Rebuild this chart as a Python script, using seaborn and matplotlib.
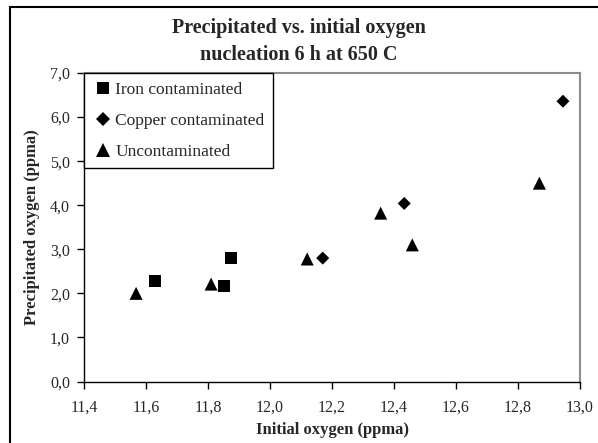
import pandas as pd
import seaborn as sns
import matplotlib.pyplot as plt
from matplotlib.patches import Rectangle
from matplotlib.ticker import FuncFormatter, MultipleLocator

# data
iron_x = [11.63, 11.853, 11.874]
iron_y = [2.28, 2.17, 2.81]
copper_x = [12.17, 12.433, 12.945]
copper_y = [2.80, 4.04, 6.36]
uncont_x = [11.568, 11.81, 12.12, 12.357, 12.459, 12.869]
uncont_y = [2.00, 2.21, 2.78, 3.82, 3.10, 4.50]

groups = ['Iron contaminated', 'Copper contaminated', 'Uncontaminated']


def build_frame():
    rows = []
    for name, xs, ys in zip(groups, [iron_x, copper_x, uncont_x], [iron_y, copper_y, uncont_y]):
        for x, y in zip(xs, ys):
            rows.append({'x': x, 'y': y, 'group': name})
    return pd.DataFrame(rows)


def comma_fmt(v, pos):
    return '{:.1f}'.format(v).replace('.', ',')


df = build_frame()

sns.set_style('white')
plt.rcParams['font.family'] = ['Liberation Serif', 'DejaVu Serif']

fig = plt.figure(figsize=(5.98, 4.43), dpi=100)
ax = fig.add_axes([84 / 598, 1 - 381.5 / 443, 496 / 598, 308.5 / 443])

sns.scatterplot(data=df, x='x', y='y', hue='group', style='group', size='group',
                hue_order=groups, style_order=groups, size_order=groups,
                palette=['black'] * 3,
                markers={'Iron contaminated': 's', 'Copper contaminated': 'D', 'Uncontaminated': '^'},
                sizes={'Iron contaminated': 75, 'Copper contaminated': 44, 'Uncontaminated': 88},
                linewidth=0, ax=ax, zorder=3)

ax.set_xlim(11.4, 13.0)
ax.set_ylim(0, 7)
ax.xaxis.set_major_locator(MultipleLocator(0.2))
ax.yaxis.set_major_locator(MultipleLocator(1.0))
ax.xaxis.set_major_formatter(FuncFormatter(comma_fmt))
ax.yaxis.set_major_formatter(FuncFormatter(comma_fmt))
ax.tick_params(axis='both', direction='out', length=5, width=1, color='black',
               labelsize=11.5, bottom=True, left=True)
ax.tick_params(axis='x', pad=8)
ax.tick_params(axis='y', pad=5)

for side in ['left', 'bottom']:
    ax.spines[side].set_color('black')
    ax.spines[side].set_linewidth(1.0)
for side in ['top', 'right']:
    ax.spines[side].set_color('#8c8c8c')
    ax.spines[side].set_linewidth(1.5)

ax.set_xlabel('Initial oxygen (ppma)', fontsize=12, fontweight='bold', labelpad=5)
ax.set_ylabel('Precipitated oxygen (ppma)', fontsize=12, fontweight='bold', labelpad=7)

handles, labels = ax.get_legend_handles_labels()
leg = ax.legend(handles, labels, loc='upper left', bbox_to_anchor=(0, 1), borderaxespad=0,
                frameon=True, fancybox=False, framealpha=1, edgecolor='black',
                fontsize=12.5, handletextpad=0.1, handlelength=1.2, labelspacing=0.85,
                borderpad=0.5)
leg.get_frame().set_linewidth(1.0)

fig.text(0.5, 1 - 28 / 443, 'Precipitated vs. initial oxygen', ha='center', va='center',
         fontsize=14.5, fontweight='bold')
fig.text(0.5, 1 - 55 / 443, 'nucleation 6 h at 650 C', ha='center', va='center',
         fontsize=14.5, fontweight='bold')

# outer chart border
fig.patches.append(Rectangle((10 / 598, -0.1), 1.0, 0.1 + 436 / 443, transform=fig.transFigure,
                             fill=False, edgecolor='black', linewidth=1.5))

plt.savefig('out.png', dpi=100)
plt.close()
